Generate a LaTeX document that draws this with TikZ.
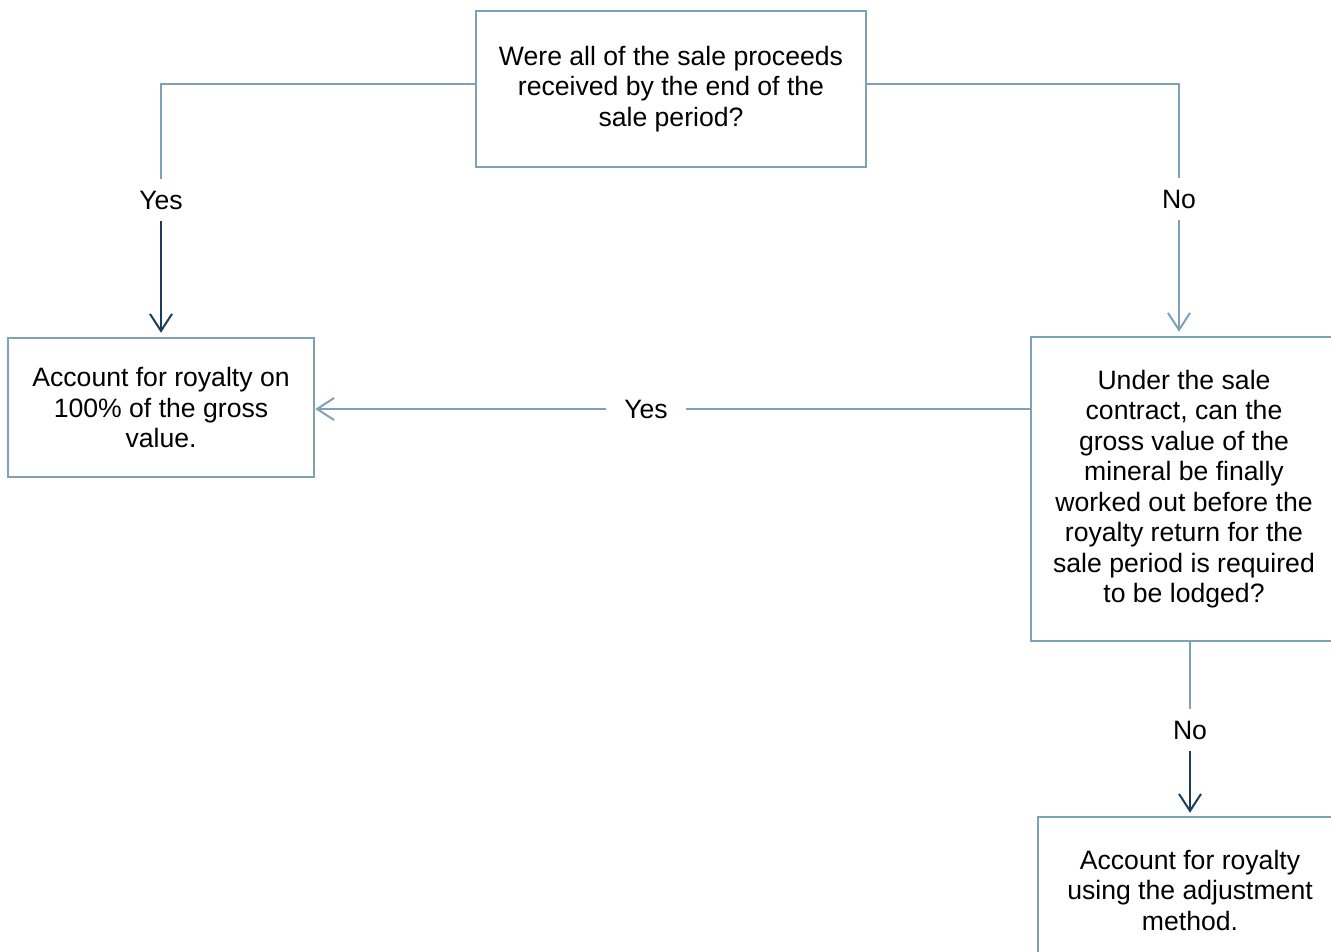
\documentclass[tikz,border=0pt]{standalone}
\usepackage{fontspec}
\setmainfont{Liberation Sans}
\usetikzlibrary{arrows.meta}
\definecolor{boxline}{HTML}{7DA1B7}
\definecolor{darkarrow}{HTML}{1C3D5A}

\begin{document}
\begin{tikzpicture}[x=1pt, y=-1pt, >={Straight Barb[length=17pt,width=22pt]},
	font=\fontsize{26.6}{30.5}\selectfont,
	box/.style={draw=boxline, line width=2.5pt, align=center, inner sep=0pt,
		execute at begin node={\rule{0pt}{25.5pt}}},
	lbl/.style={inner xsep=18pt, inner ysep=11pt, text height=19pt, text depth=0pt},
	link/.style={draw=boxline, line width=2pt},
	dark/.style={draw=darkarrow, line width=2pt}]
	\useasboundingbox (0,0) rectangle (1331,951);
	\clip (0,0) rectangle (1331,951);
	\node[box, minimum width=390pt, minimum height=156pt] (proceeds) at (671,89) {Were all of the sale proceeds\\received by the end of the\\sale period?};
	\node[box, minimum width=306pt, minimum height=139pt] (gross) at (161,407.5) {Account for royalty on\\100\% of the gross\\value.};
	\node[box, minimum width=306pt, minimum height=304pt] (finalise) at (1184,489) {Under the sale\\contract, can the\\gross value of the\\mineral be finally\\worked out before the\\royalty return for the\\sale period is required\\to be lodged?};
	\node[box, minimum width=304pt, minimum height=146pt] (adjust) at (1190,890) {Account for royalty\\using the adjustment\\method.};
	\node[lbl] (yes_top) at (161,200) {Yes};
	\node[lbl] (no_top) at (1179,199) {No};
	\node[lbl] (yes_mid) at (646,409) {Yes};
	\node[lbl] (no_bot) at (1190,730) {No};
	\draw[link] ([yshift=5pt]proceeds.west) -| (yes_top.north);
	\draw[dark, ->] (yes_top.south) -- ([yshift=4pt]yes_top.south |- gross.north);
	\draw[link] ([yshift=5pt]proceeds.east) -| (no_top.north);
	\draw[link, ->] (no_top.south) -- ([yshift=4pt]no_top.south |- finalise.north);
	\draw[link] (finalise.west |- yes_mid) -- (yes_mid.east);
	\draw[link, ->] (yes_mid.west) -- (yes_mid -| gross.east);
	\draw[link] (finalise.south -| no_bot) -- (no_bot.north);
	\draw[dark, ->] (no_bot.south) -- ([yshift=3pt]no_bot.south |- adjust.north);
\end{tikzpicture}
\end{document}
